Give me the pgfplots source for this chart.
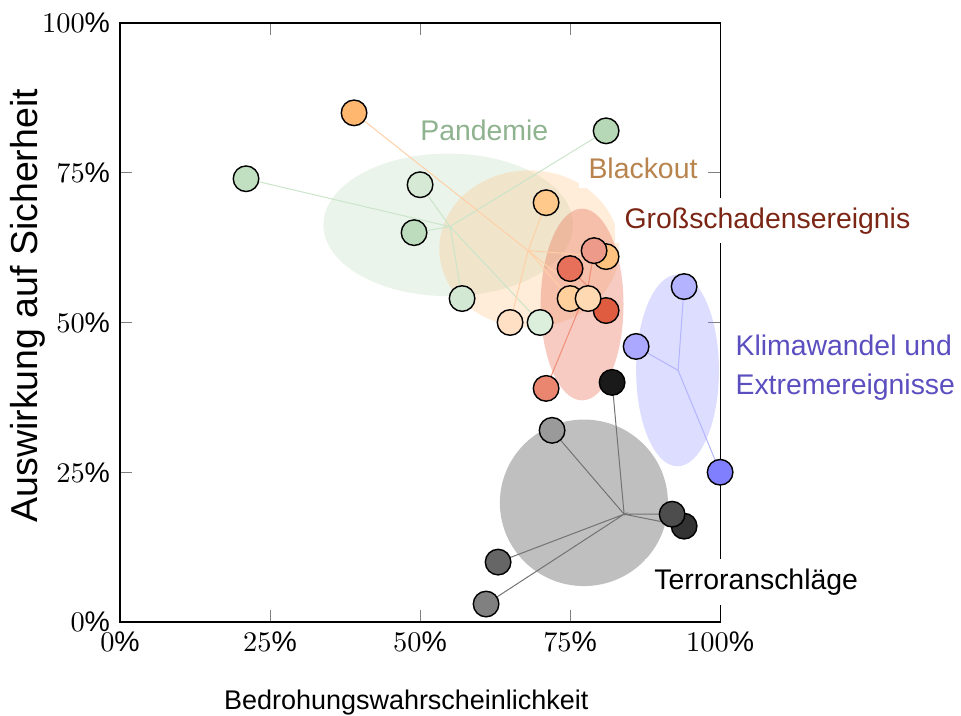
\documentclass[border=0pt]{standalone}
\usepackage{pgfplots}
\pgfplotsset{compat=1.18}
\usepackage{pgfplotstable}
\usepackage{fontspec}
\setmainfont{Liberation Sans}

\definecolor{lblgreen}{HTML}{8FB38F}
\definecolor{lblorange}{HTML}{B8834D}
\definecolor{lblred}{HTML}{7B2614}
\definecolor{lblblue}{HTML}{5B4FC0}

% all points, in drawing order: x, y, fill colour (hex)
\pgfplotstableread{
x    y    c
0.21 0.74 C1DFC1
0.50 0.73 D5E9D5
0.49 0.65 BDDBBD
0.57 0.54 D2E8D2
0.81 0.82 B6D8B6
0.70 0.50 DCEFDC
0.82 0.40 1A1A1A
0.72 0.32 9A9A9A
0.94 0.16 333333
0.92 0.18 4D4D4D
0.63 0.10 666666
0.61 0.03 808080
0.94 0.56 B3B3FF
0.86 0.46 AAA8FF
1.00 0.25 8080FF
0.39 0.85 FFB66E
0.71 0.70 FFC98C
0.81 0.61 FFC27E
0.65 0.50 FFE0C4
0.79 0.62 EE9A8A
0.75 0.59 E6705A
0.81 0.52 E05C40
0.71 0.39 EA8670
0.75 0.54 FFCF9C
0.78 0.54 FFD9B2
}\points

\begin{document}
\begin{tikzpicture}
\begin{axis}[
    scale only axis,
    width=211.3pt, height=210.9pt,
    xmin=0, xmax=1, ymin=0, ymax=1,
    xtick={0,0.25,0.5,0.75,1},
    ytick={0,0.25,0.5,0.75,1},
    xticklabels={$0\%$,$25\%$,$50\%$,$75\%$,$100\%$},
    yticklabels={$0\%$,$25\%$,$50\%$,$75\%$,$100\%$},
    xlabel={Bedrohungswahrscheinlichkeit},
    ylabel={Auswirkung auf Sicherheit},
    xlabel style={font=\fontsize{9.5}{11}\selectfont,
        at={(axis description cs:0.477,-0.135)}, anchor=center},
    ylabel style={font=\fontsize{13.2}{15.5}\selectfont,
        at={(axis description cs:-0.154,0.528)}, anchor=center},
    clip=false,
    spoke/.style={line width=0.35pt, no marks},
]
% cluster areas (mean +- sd)
\fill[fill={rgb,255:red,185;green,219;blue,185}, opacity=0.3]
    (axis cs:0.547,0.663) ellipse [x radius=0.208, y radius=0.119];
\fill[fill={rgb,255:red,255;green,192;blue,128}, opacity=0.3]
    (axis cs:0.682,0.623) ellipse [x radius=0.150, y radius=0.131];
\fill[fill={rgb,255:red,232;green,115;blue,90}, opacity=0.37]
    (axis cs:0.770,0.530) ellipse [x radius=0.069, y radius=0.160];
\fill[fill={rgb,255:red,128;green,128;blue,255}, opacity=0.27]
    (axis cs:0.929,0.420) ellipse [x radius=0.069, y radius=0.160];
\fill[fill={rgb,255:red,77;green,77;blue,77}, opacity=0.36]
    (axis cs:0.773,0.199) ellipse [x radius=0.140, y radius=0.139];

% spokes from cluster centre to each point
\addplot[spoke, color={rgb,255:red,202;green,229;blue,202}] coordinates {
    (0.55,0.66) (0.21,0.74) (0.55,0.66) (0.50,0.73) (0.55,0.66) (0.49,0.65)
    (0.55,0.66) (0.57,0.54) (0.55,0.66) (0.81,0.82) (0.55,0.66) (0.70,0.50)};
\addplot[spoke, color={rgb,255:red,255;green,208;blue,168}] coordinates {
    (0.68,0.62) (0.39,0.85) (0.68,0.62) (0.71,0.70) (0.68,0.62) (0.81,0.61)
    (0.68,0.62) (0.75,0.54) (0.68,0.62) (0.78,0.54) (0.68,0.62) (0.65,0.50)};
\addplot[spoke, color={rgb,255:red,240;green,142;blue,118}] coordinates {
    (0.78,0.56) (0.79,0.62) (0.78,0.56) (0.75,0.59) (0.78,0.56) (0.81,0.52)
    (0.78,0.56) (0.71,0.39)};
\addplot[spoke, color={rgb,255:red,180;green,180;blue,255}] coordinates {
    (0.93,0.42) (0.94,0.56) (0.93,0.42) (0.86,0.46) (0.93,0.42) (1.00,0.25)};
\addplot[spoke, color=black!55] coordinates {
    (0.84,0.18) (0.82,0.40) (0.84,0.18) (0.72,0.32) (0.84,0.18) (0.92,0.18)
    (0.84,0.18) (0.94,0.16) (0.84,0.18) (0.63,0.10) (0.84,0.18) (0.61,0.03)};

% cluster names
\node[fill=white, text=lblgreen] at (axis cs:0.607,0.82) {Pandemie};
\node[fill=white, text=lblorange, anchor=west] at (axis cs:0.764,0.758) {Blackout};
\node[fill=white, text=lblred, anchor=west] at (axis cs:0.824,0.670) {Großschadensereignis};
\node[fill=white, text=lblblue, anchor=west, align=left,
      font=\fontsize{10}{13.7}\selectfont] at (axis cs:1.009,0.425)
      {Klimawandel und\\Extremereignisse};
\node[fill=white, text=black] at (axis cs:1.060,0.067) {Terroranschläge};

% points
\addplot[scatter, only marks, mark=*, mark size=4.5pt,
    mark options={line width=0.5pt},
    point meta=explicit symbolic,
    scatter/@pre marker code/.code={%
        \edef\tmp{\noexpand\definecolor{mc}{HTML}{\pgfplotspointmeta}}\tmp
        \scope[fill=mc, draw=black]},
    scatter/@post marker code/.code={\endscope},
] table[x=x, y=y, meta=c] {\points};
\end{axis}
\pgfresetboundingbox
\path[use as bounding box] (-42.25pt,-32.75pt) rectangle (296.1pt,219.0pt);
\end{tikzpicture}
\end{document}
